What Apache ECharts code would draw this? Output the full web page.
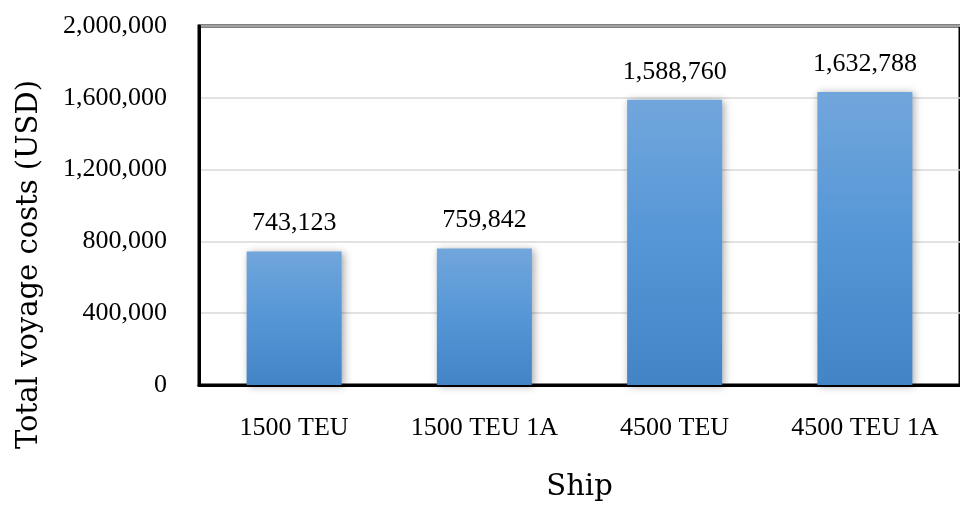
<!DOCTYPE html>
<html>
<head>
<meta charset="utf-8">
<script src="https://cdn.jsdelivr.net/npm/echarts@6/dist/echarts.min.js"></script>
<style>
  html, body { margin: 0; padding: 0; background: #fff; }
  #chart { width: 960px; height: 507px; }
</style>
</head>
<body>
<div id="chart"></div>
<script>
// Total voyage cost per ship configuration
const ships = ['1500 TEU', '1500 TEU 1A', '4500 TEU', '4500 TEU 1A'];
const voyageCosts = [743123, 759842, 1588760, 1632788];
const yTicks = [0, 400000, 800000, 1200000, 1600000, 2000000];

const FONT = '"Liberation Serif", "DejaVu Serif", serif';
const TITLE_FONT = '"DejaVu Serif", serif';
const fmt = v => Number(v).toLocaleString('en-US');

const chart = echarts.init(document.getElementById('chart'), null, { renderer: 'canvas' });

chart.setOption({
  animation: false,
  grid: {
    left: 199, top: 26, width: 764, height: 360,
    show: true, borderColor: '#000', borderWidth: 3, backgroundColor: 'transparent'
  },
  xAxis: {
    type: 'category',
    data: ships,
    name: 'Ship',
    nameLocation: 'middle',
    nameGap: 88,
    nameTextStyle: { fontFamily: TITLE_FONT, fontSize: 29, color: '#000' },
    axisLine: { show: true, lineStyle: { color: '#000', width: 3 } },
    axisTick: { show: false },
    axisLabel: { interval: 0, fontFamily: FONT, fontSize: 26, color: '#000', margin: 30 }
  },
  yAxis: {
    type: 'value',
    min: yTicks[0],
    max: yTicks[yTicks.length - 1],
    interval: yTicks[1] - yTicks[0],
    name: 'Total voyage costs (USD)',
    nameLocation: 'middle',
    nameGap: 155,
    nameRotate: 90,
    // shift the title down along the axis
    nameTextStyle: { fontFamily: TITLE_FONT, fontSize: 29, color: '#000', padding: [0, 118, 0, 0] },
    axisLine: { show: true, lineStyle: { color: '#000', width: 3 } },
    axisTick: { show: false },
    splitLine: { show: true, lineStyle: { color: '#d9d9d9', width: 1.5 } },
    axisLabel: { fontFamily: FONT, fontSize: 26, color: '#000', margin: 32, formatter: fmt }
  },
  series: [{
    type: 'bar',
    data: voyageCosts,
    barWidth: 95,
    itemStyle: {
      color: new echarts.graphic.LinearGradient(0, 0, 0, 1, [
        { offset: 0, color: '#71a6dc' },
        { offset: 0.5, color: '#5596d6' },
        { offset: 1, color: '#4284c6' }
      ]),
      shadowColor: 'rgba(0,0,0,0.35)',
      shadowBlur: 8,
      shadowOffsetX: 2,
      shadowOffsetY: 1
    },
    label: {
      show: true,
      position: 'top',
      distance: 15,
      fontFamily: FONT,
      fontSize: 26,
      color: '#000',
      formatter: p => fmt(p.value)
    }
  }]
});
</script>
</body>
</html>
